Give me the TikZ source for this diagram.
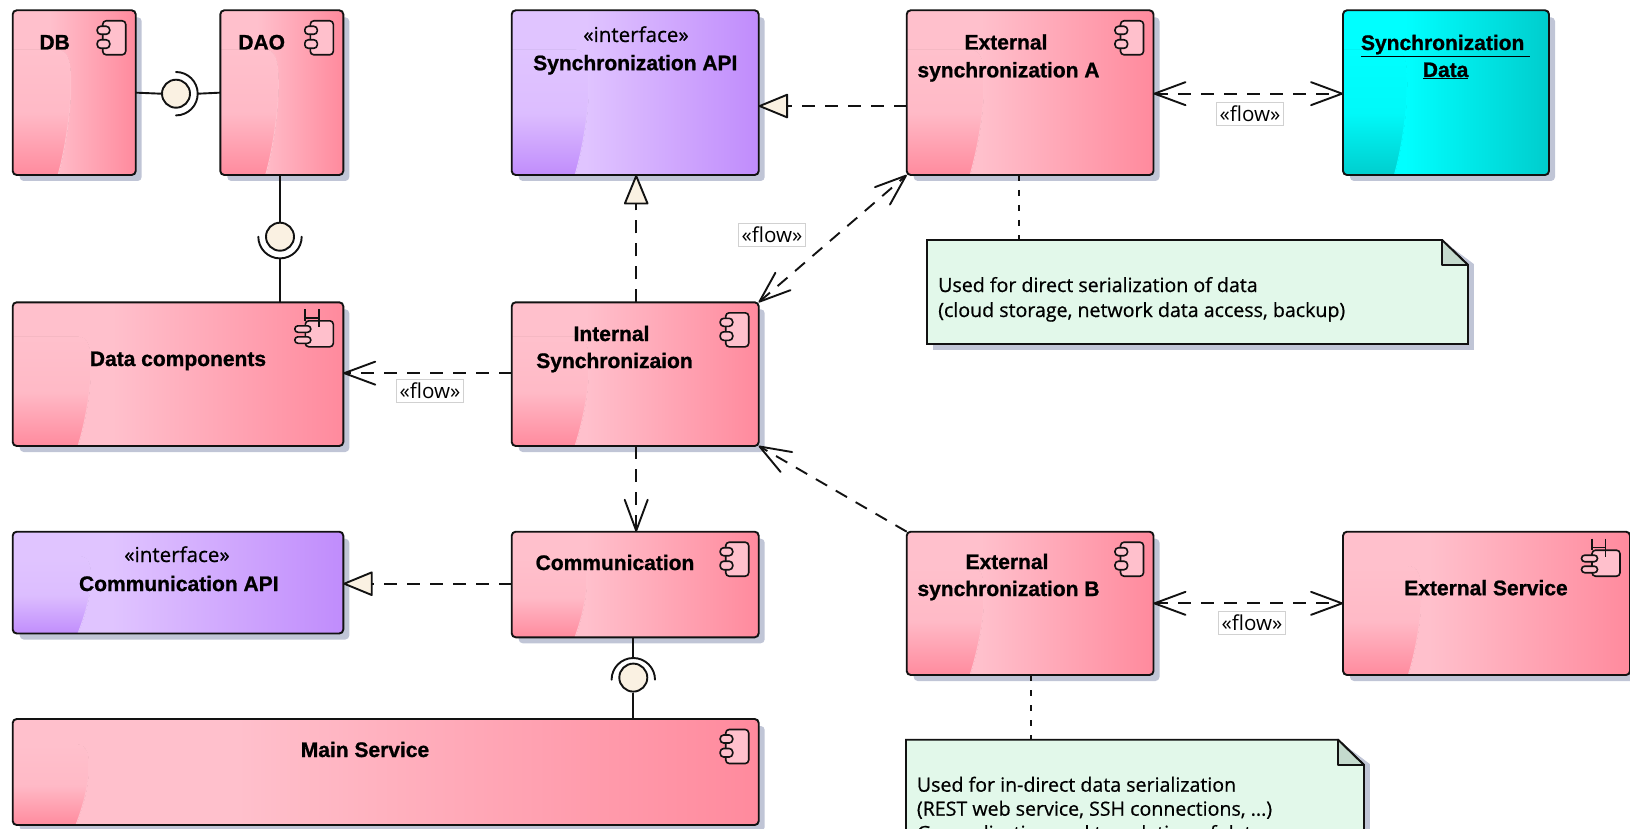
\documentclass[tikz,border=0pt]{standalone}
\usepackage{fontspec}
\setmainfont{Liberation Sans}
\newfontfamily\namefont{Liberation Sans Bold}[FakeBold=1]
\newfontfamily\notefont{Open Sans}[FakeBold=0.6]
\newfontfamily\flowfont{Open Sans}
\usetikzlibrary{arrows.meta,calc}
\definecolor{pinkL}{RGB}{255,192,204}
\definecolor{pinkD}{RGB}{255,138,157}
\definecolor{violL}{RGB}{224,196,255}
\definecolor{violD}{RGB}{192,140,252}
\definecolor{cyanL}{RGB}{0,255,255}
\definecolor{cyanD}{RGB}{0,205,205}
\definecolor{shadowc}{RGB}{192,197,214}
\definecolor{inkc}{RGB}{18,18,18}
\definecolor{notec}{RGB}{226,248,234}
\definecolor{foldc}{RGB}{196,218,205}
\definecolor{creamc}{RGB}{250,241,226}
\pgfdeclarehorizontalshading{pinkh}{100bp}{color(0bp)=(pinkL);color(25bp)=(pinkL);color(40bp)=(pinkL);color(75bp)=(pinkD);color(100bp)=(pinkD)}
\pgfdeclarehorizontalshading{violh}{100bp}{color(0bp)=(violL);color(25bp)=(violL);color(40bp)=(violL);color(75bp)=(violD);color(100bp)=(violD)}
\pgfdeclarehorizontalshading{cyanh}{100bp}{color(0bp)=(cyanL);color(25bp)=(cyanL);color(40bp)=(cyanL);color(75bp)=(cyanD);color(100bp)=(cyanD)}
\tikzset{
  x=1pt,y=-1pt,
  outline/.style={draw=inkc,line width=1.9pt,rounded corners=4pt},
  bxnode/.style={inner sep=0pt,outer sep=0pt,minimum width=0pt},
  name text/.style={font=\namefont\fontsize{21}{21}\selectfont,anchor=base,inner sep=0pt,text=black},
  stereo text/.style={font=\notefont\fontsize{20.6}{21}\selectfont,anchor=base,inner sep=0pt,text=black},
  note text/.style={font=\notefont\fontsize{19.6}{21}\selectfont,anchor=base west,inner sep=0pt,text=black},
  flowlabel/.style={draw=black!18,line width=0.8pt,fill=white,inner sep=0pt,minimum width=67pt,minimum height=23pt,font=\flowfont\fontsize{20.6}{21}\selectfont,text=black},
  dep/.style={draw=inkc,line width=1.9pt,dash pattern=on 13pt off 10pt},
  notelink/.style={draw=inkc,line width=1.9pt,dash pattern=on 6pt off 9pt},
  wire/.style={draw=inkc,line width=1.9pt},
  openhead/.tip={Straight Barb[length=31pt,width=23pt,line width=1.9pt,round]},
  realize/.tip={Triangle[length=31pt,width=25pt,fill=creamc,line width=1.9pt,round]},
  ball/.style={circle,draw=inkc,line width=1.9pt,fill=creamc,minimum size=28pt,inner sep=0pt},
}
\def\getgb#1/#2;{#1}
\def\getgm#1/#2;{#2}
% \compbox{name}{x1}{y1}{x2}{y2}{shading}{light}{dark}{gloss bottom/gloss max}
\newcommand{\compbox}[9]{%
  \def\xa{#2}\def\ya{#3}\def\xb{#4}\def\yb{#5}%
  \fill[shadowc,rounded corners=4pt] (\xa+7,\ya+7) rectangle (\xb+6,\yb+6);
  \shade[shading=#6,rounded corners=4pt] (\xa,\ya) rectangle (\xb,\yb);
  \begin{scope}
    \clip[rounded corners=4pt] (\xa,\ya) rectangle (\xb,\yb);
    \glossfill{#7}{#8}{#9}
  \end{scope}
  \draw[outline] (\xa,\ya) rectangle (\xb,\yb);
  \node[bxnode,minimum width={(#4-#2)*1pt},minimum height={(#5-#3)*1pt}] (#1) at ({(#2+#4)/2},{(#3+#5)/2}) {};
}
\newcommand{\glossfill}[3]{%
  \edef\gb{\getgb#3;}\edef\gm{\getgm#3;}%
  \fill[top color=#1,bottom color=#2,middle color=#1!88!#2]
    (\xa-1,{\ya+0.24*(\yb-\ya)}) -- ({\xa+\gm-14},{\ya+0.24*(\yb-\ya)})
    .. controls ({\xa+\gm-3},{\ya+0.24*(\yb-\ya)}) and ({\xa+\gm},{\ya+0.30*(\yb-\ya)}) .. ({\xa+\gm},{\ya+0.45*(\yb-\ya)})
    .. controls ({\xa+\gm},{\ya+0.70*(\yb-\ya)}) and ({\xa+\gb+3},{\yb-8}) .. ({\xa+\gb},\yb+1)
    -- (\xa-1,\yb+1) -- cycle;
  \draw[#1,line width=1pt]
    (\xa-1,{\ya+0.24*(\yb-\ya)}) -- ({\xa+\gm-14},{\ya+0.24*(\yb-\ya)})
    .. controls ({\xa+\gm-3},{\ya+0.24*(\yb-\ya)}) and ({\xa+\gm},{\ya+0.30*(\yb-\ya)}) .. ({\xa+\gm},{\ya+0.45*(\yb-\ya)})
    .. controls ({\xa+\gm},{\ya+0.70*(\yb-\ya)}) and ({\xa+\gb+3},{\yb-8}) .. ({\xa+\gb},\yb+1);
}
\newcommand{\compicon}[3]{% fill, right, top
  \begin{scope}[shift={(#2,#3)},line width=1.6pt,draw=inkc]
    \draw[fill=#1,rounded corners=3.5pt] (-33,10.5) rectangle (-10,44.5);
    \draw[fill=#1,rounded corners=3.5pt] (-38.5,16) rectangle (-26,24);
    \draw[fill=#1,rounded corners=3.5pt] (-38.5,29.5) rectangle (-26,38);
  \end{scope}
}
\newcommand{\subicon}[3]{%
  \begin{scope}[shift={(#2,#3)},line width=1.6pt,draw=inkc]
    \draw[fill=#1,rounded corners=3.5pt] (-38,18.5) rectangle (-10,44.5);
    \draw (-38.3,7) -- (-38.3,18.5) (-24.5,7) -- (-24.5,25) (-38.3,15.7) -- (-24.5,15.7);
    \draw[fill=#1,rounded corners=3.2pt] (-48.5,23.5) rectangle (-32.5,30);
    \draw[fill=#1,rounded corners=3.2pt] (-48.5,34.5) rectangle (-32.5,41);
  \end{scope}
}
\begin{document}
\begin{tikzpicture}
\useasboundingbox (0,0) rectangle (1630,829);
\begin{scope}
\clip (0,0) rectangle (1630,829);
% boxes
\compbox{db}{12.7}{10.3}{135.7}{175}{pinkh}{pinkL}{pinkD}{45/58}
\compbox{dao}{220.3}{10.3}{343.3}{175}{pinkh}{pinkL}{pinkD}{45/58}
\compbox{sapi}{511.7}{10.3}{758.7}{175}{violh}{violL}{violD}{63/77}
\compbox{exta}{906.7}{10.3}{1153.5}{175}{pinkh}{pinkL}{pinkD}{63/77}
\compbox{sdata}{1343}{10.3}{1549}{175}{cyanh}{cyanL}{cyanD}{51/64}
\compbox{datac}{12.7}{302.3}{343.3}{446}{pinkh}{pinkL}{pinkD}{65/78}
\compbox{intl}{511.7}{302.3}{758.7}{446}{pinkh}{pinkL}{pinkD}{63/77}
\compbox{capi}{12.7}{531.7}{343.3}{633.5}{violh}{violL}{violD}{65/78}
\compbox{comm}{511.7}{531.7}{758.7}{637.3}{pinkh}{pinkL}{pinkD}{63/75}
\compbox{extb}{906.7}{531.7}{1153.5}{675}{pinkh}{pinkL}{pinkD}{63/77}
\compbox{exts}{1343}{531.7}{1630}{675}{pinkh}{pinkL}{pinkD}{65/78}
\compbox{mains}{12.7}{719}{758.7}{825}{pinkh}{pinkL}{pinkD}{63/76}
% icons
\compicon{pinkL}{135.7}{10.3}
\compicon{pinkL}{343.3}{10.3}
\compicon{pinkL}{1153.5}{10.3}
\compicon{pinkL}{758.7}{302.3}
\compicon{pinkL}{758.7}{531.7}
\compicon{pinkL}{1153.5}{531.7}
\compicon{pinkL}{758.7}{719}
\subicon{pinkL}{343.3}{302.3}
\subicon{pinkL}{1630}{531.7}
% notes
\fill[shadowc] (933,246) -- (1474,246) -- (1474,350) -- (933,350) -- cycle;
\fill[shadowc] (912,746) -- (1370,746) -- (1370,829) -- (912,829) -- cycle;
\fill[white] (1442,240) -- (1474,240) -- (1474,264) -- cycle;
\fill[white] (1338,739.7) -- (1370,739.7) -- (1370,764) -- cycle;
\draw[wire,fill=notec] (927,240) -- (1442,240) -- (1468,265) -- (1468,344) -- (927,344) -- cycle;
\draw[wire,fill=foldc,line join=round] (1442,240) -- (1468,265) -- (1442,265) -- cycle;
\node[bxnode,minimum width=541pt,minimum height=104pt] (notea) at (1197.5,292) {};
\draw[wire,fill=notec] (906,739.7) -- (1338,739.7) -- (1364,765) -- (1364,840) -- (906,840) -- cycle;
\draw[wire,fill=foldc,line join=round] (1338,739.7) -- (1364,765) -- (1338,765) -- cycle;
\node[bxnode,minimum width=458pt,minimum height=100pt] (noteb) at (1135,789.7) {};
% texts
\node[name text] at (54.7,49.5) {DB};
\node[name text] at (261.7,49.5) {DAO};
\node[stereo text] at (636,42) {«interface»};
\node[name text] at (635.3,70.2) {Synchronization API};
\node[name text] at (1006,49.5) {External};
\node[name text] at (1008.5,77.3) {synchronization A};
\node[name text] at (1445.6,50) {\underline{Synchronization\ }};
\node[name text] at (1445.6,77) {\underline{Data}};
\node[name text] at (611.5,341) {Internal};
\node[name text] at (614.5,368) {Synchronizaion};
\node[name text] at (178,366) {Data components};
\node[name text] at (615,570) {Communication};
\node[stereo text] at (177,562) {«interface»};
\node[name text] at (178.8,591) {Communication API};
\node[name text] at (365,757) {Main Service};
\node[name text] at (1007,569) {External};
\node[name text] at (1008.5,596) {synchronization B};
\node[name text] at (1486,595.2) {External Service};
\node[note text] at (938,292) {Used for direct serialization of data};
\node[note text] at (938,317) {(cloud storage, network data access, backup)};
\node[note text] at (916.7,791.7) {Used for in-direct data serialization};
\node[note text] at (916.7,815.7) {(REST web service, SSH connections, ...)};
\node[note text] at (916.7,840) {Generalization and translation of data};
% connectors
\node[ball] (b1) at (176,93.7) {};
\node[ball] (b2) at (280,236.7) {};
\node[ball] (b3) at (633.3,677.6) {};
\coordinate (a1) at (198,93.7);
\coordinate (a2) at (280,259);
\coordinate (a3) at (633.3,658);
\draw[wire] (db.east) -- (b1.west);
\draw[wire] (a1) -- (dao.west);
\draw[wire,line cap=round] (176,72) arc[start angle=-90,end angle=90,radius=21.7];
\draw[wire] (dao.south -| b2) -- (b2.north);
\draw[wire] (a2) -- (b2 |- datac.north);
\draw[wire,line cap=round] (258.3,236.7) arc[start angle=180,end angle=0,radius=21.7];
\draw[wire] (comm.south -| a3) -- (a3);
\draw[wire] (b3.south) -- (b3 |- mains.north);
\draw[wire,line cap=round] (611.6,679.7) arc[start angle=180,end angle=360,radius=21.7];
\draw[dep,-{realize}] ([yshift=-13.4pt]exta.west) -- ([yshift=-13.4pt]sapi.east);
\draw[dep,-{realize}] ([xshift=1pt]intl.north) -- ([xshift=1pt]sapi.south);
\draw[dep,{openhead}-{openhead}] ([yshift=-1pt]exta.east) -- ([yshift=-1pt]exta.east -| sdata.west);
\draw[dep,{openhead}-{openhead}] (intl.north east) -- (exta.south west);
\draw[dep,-{openhead}] ([yshift=1pt]intl.west) -- ([yshift=1pt]datac.east);
\draw[dep,-{openhead}] ([xshift=1pt]intl.south) -- ([xshift=1pt]comm.north);
\draw[dep,-{realize}] ([yshift=0.8pt]comm.west) -- ([yshift=0.8pt]capi.east |- comm.west);
\draw[dep,-{openhead}] (extb.north west) -- (intl.south east);
\draw[dep,{openhead}-{openhead}] (extb.east) -- (exts.west);
\draw[notelink] ([xshift=-11pt]exta.south) -- ([xshift=-11pt]exta.south |- notea.north);
\draw[notelink] ([xshift=1pt]extb.south) -- ([xshift=1pt]extb.south |- noteb.north);
% labels
\node[flowlabel] (f1) at (1250,113.5) {«flow»};
\node[flowlabel] (f2) at (772,235) {«flow»};
\node[flowlabel] (f3) at (430,391) {«flow»};
\node[flowlabel] (f4) at (1252,623) {«flow»};
\end{scope}
\end{tikzpicture}
\end{document}
